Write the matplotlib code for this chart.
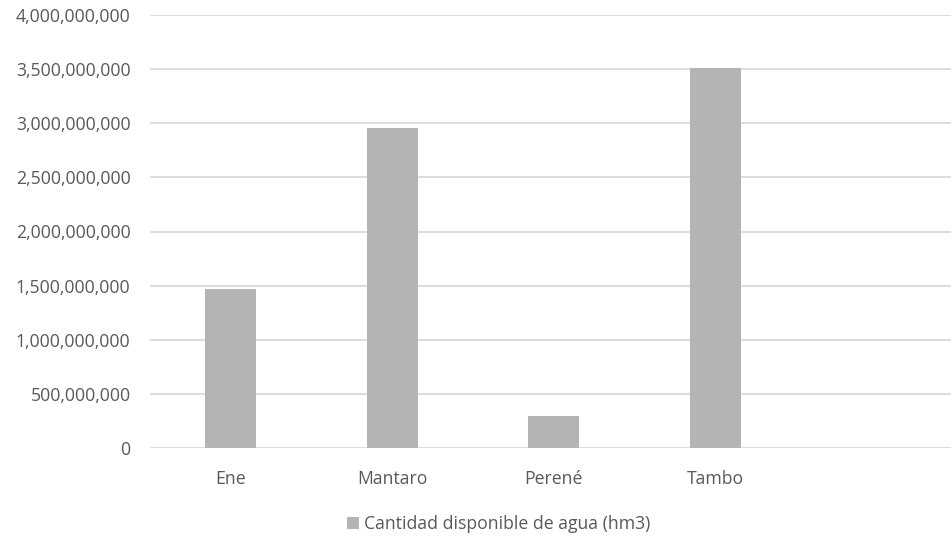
import matplotlib
matplotlib.use("Agg")
import matplotlib.pyplot as plt
from matplotlib.ticker import FuncFormatter, MultipleLocator
from matplotlib.patches import Patch

categories = ["Ene", "Mantaro", "Perené", "Tambo"]
values = [1_470_000_000, 2_960_000_000, 292_000_000, 3_510_000_000]
series_label = "Cantidad disponible de agua (hm3)"

plt.rcParams["font.family"] = ["Open Sans", "DejaVu Sans"]

W, H = 951, 537
fig = plt.figure(figsize=(W / 100, H / 100), dpi=100)
ax = fig.add_axes([150 / W, 1 - 448 / H, (W - 150) / W, (448 - 15) / H])

x = list(range(len(categories)))
ax.bar(x, values, width=0.316, color="#b4b4b4", zorder=2)

ax.set_ylim(0, 4_000_000_000)
ax.set_xlim(-0.5, 4.46)
ax.yaxis.set_major_locator(MultipleLocator(500_000_000))
ax.yaxis.set_major_formatter(FuncFormatter(lambda v, p: f"{int(v):,}"))
ax.grid(axis="y", color="#d9d9d9", linewidth=1.3, zorder=0)
ax.set_xticks(x)
ax.set_xticklabels(categories)
for s in ax.spines.values():
    s.set_visible(False)
ax.tick_params(axis="both", length=0, colors="#595959", labelsize=12.7)
ax.tick_params(axis="y", pad=14)
ax.tick_params(axis="x", pad=16)

handles = [Patch(facecolor="#b4b4b4", edgecolor="none", label=series_label)]
fig.legend(handles=handles, loc="center", bbox_to_anchor=(499 / W, 1 - 524 / H),
           frameon=False, fontsize=12.7, labelcolor="#595959",
           handlelength=0.65, handleheight=0.65, handletextpad=0.3)

fig.savefig("out.png", dpi=100, facecolor="white")
